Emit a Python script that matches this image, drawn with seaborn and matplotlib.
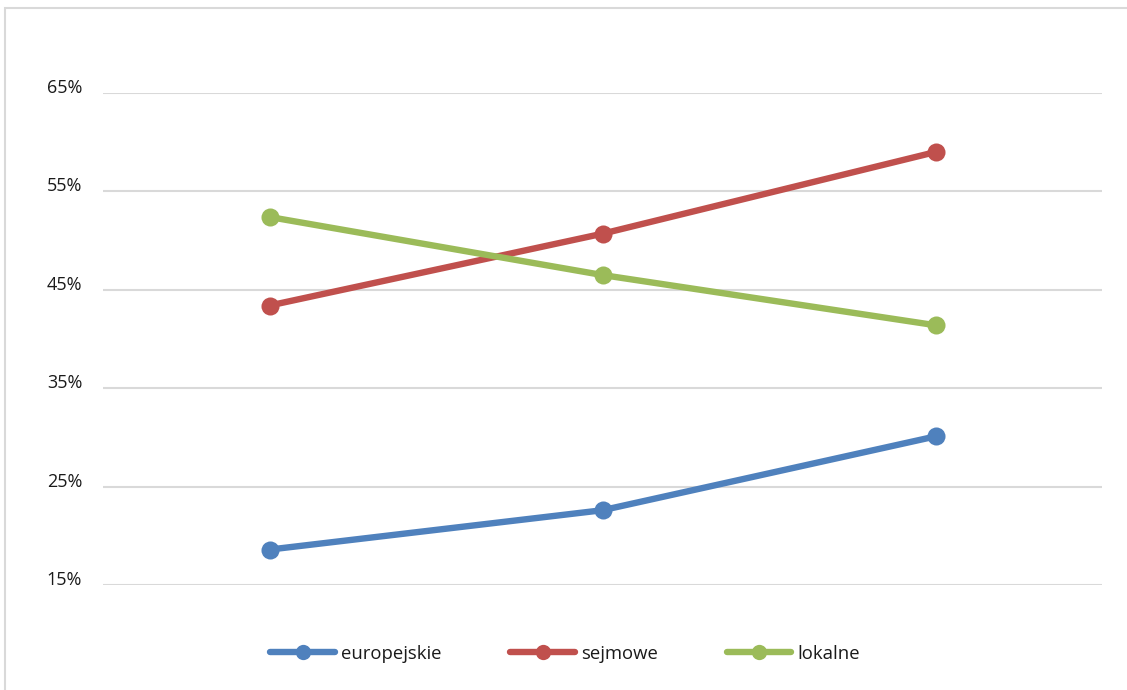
import matplotlib
matplotlib.use("Agg")
import matplotlib.pyplot as plt
import seaborn as sns
import pandas as pd
from matplotlib.patches import Rectangle

# Turnout by election type across three consecutive periods (%)
periods = ["1", "2", "3"]
europejskie = [18.6, 22.6, 30.1]
sejmowe = [43.4, 50.7, 59.0]
lokalne = [52.4, 46.5, 41.4]
series_names = ["europejskie", "sejmowe", "lokalne"]
y_ticks = [15, 25, 35, 45, 55, 65]
colors = ["#4F81BD", "#C0504D", "#9BBB59"]

df = pd.DataFrame({
    "okres": periods * 3,
    "frekwencja": europejskie + sejmowe + lokalne,
    "wybory": [n for n in series_names for _ in periods],
})

sns.set_theme(style="white")
plt.rcParams["font.family"] = ["Open Sans", "DejaVu Sans"]

W, H = 1127, 690
fig = plt.figure(figsize=(W / 100, H / 100), dpi=100)
ax = fig.add_axes([103 / W, 1 - 585 / H, (1102 - 103) / W, (585 - 93) / H])

sns.lineplot(data=df, x="okres", y="frekwencja", hue="wybory",
             palette=colors, hue_order=series_names, sort=False,
             marker="o", markersize=13, markeredgewidth=0,
             linewidth=4.6, ax=ax, legend=True)

ax.set_xlim(-0.5, 2.5)
ax.set_ylim(15, 65)
ax.set_yticks(y_ticks)
ax.set_yticklabels([f"{t}%" for t in y_ticks], fontsize=13, color="#1a1a1a")
for lbl in ax.get_yticklabels():
    lbl.set_verticalalignment("baseline")
ax.set_xticks([])
ax.set_xlabel("")
ax.set_ylabel("")
ax.tick_params(axis="y", length=0, pad=15)
ax.grid(axis="y", color="#D9D9D9", linewidth=1.5)
ax.set_axisbelow(True)
for s in ax.spines.values():
    s.set_visible(False)

handles, labels = ax.get_legend_handles_labels()
for h in handles:
    h.set_markersize(11)
leg = ax.legend(handles, labels, loc="center", bbox_to_anchor=(0.4625, -0.14),
                ncol=3, frameon=False, fontsize=13.3, handlelength=3.5,
                handletextpad=0.3, columnspacing=3.75)
for t in leg.get_texts():
    t.set_color("#1a1a1a")

# Outer chart frame
fig.patches.append(Rectangle((5 / W, -0.1), 1.2, 1 - 8 / H + 0.1,
                             transform=fig.transFigure, fill=False,
                             edgecolor="#D9D9D9", linewidth=1.5))

fig.savefig("out.png", dpi=100)
